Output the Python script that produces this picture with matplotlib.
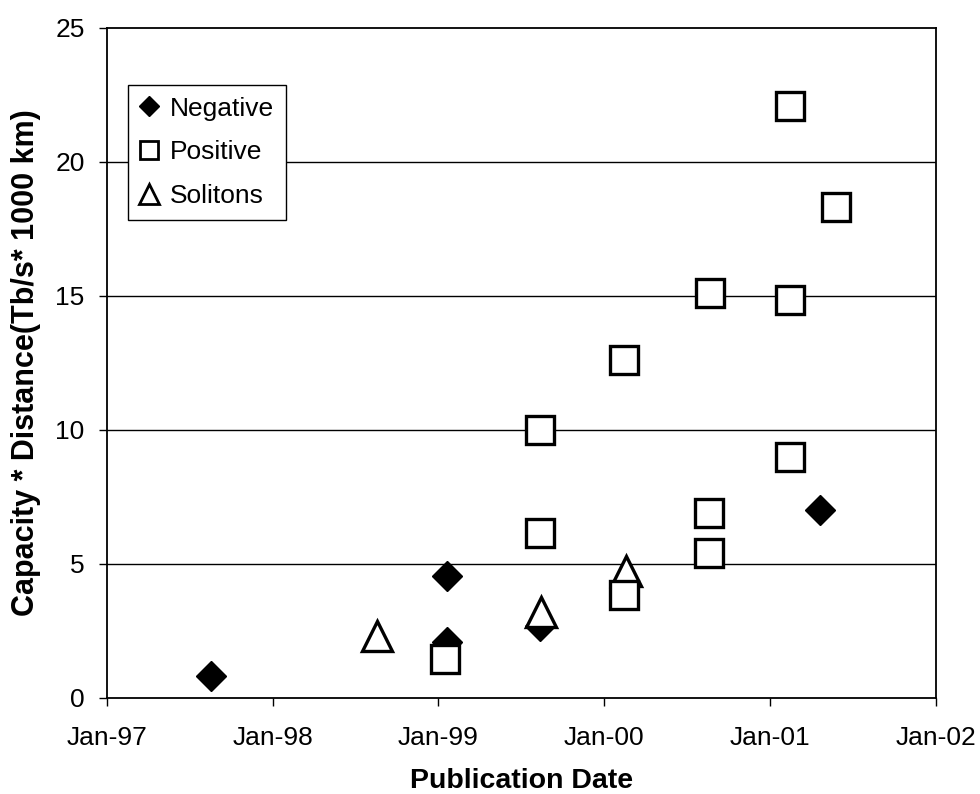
import matplotlib
matplotlib.use("Agg")
import matplotlib.pyplot as plt
from matplotlib.lines import Line2D

plt.rcParams['font.family'] = ['Liberation Sans', 'DejaVu Sans']

# Publication date as decimal year
neg_x = [1997.63, 1999.05, 1999.05, 1999.61, 2001.30]
neg_y = [0.8, 4.55, 2.1, 2.7, 7.0]

pos_x = [1999.04, 1999.61, 1999.61, 2000.12, 2000.12, 2000.64, 2000.63, 2000.63,
         2001.12, 2001.40, 2001.12, 2001.12]
pos_y = [1.45, 10.0, 6.15, 12.6, 3.85, 15.1, 6.9, 5.4, 22.1, 18.3, 14.85, 9.0]

sol_x = [1998.63, 1999.62, 2000.13]
sol_y = [2.3, 3.2, 4.75]

xtick_pos = [1997, 1998, 1999, 2000, 2001, 2002]
xtick_labels = ["Jan-97", "Jan-98", "Jan-99", "Jan-00", "Jan-01", "Jan-02"]
ytick_pos = [0, 5, 10, 15, 20, 25]

fig = plt.figure(figsize=(9.8, 7.94), dpi=100)
ax = fig.add_axes([0.109, 0.121, 0.846, 0.844])

ax.plot(neg_x, neg_y, linestyle='none', marker='D', markersize=15,
        markerfacecolor='black', markeredgecolor='black', zorder=3)
ax.plot(sol_x, sol_y, linestyle='none', marker='^', markersize=22,
        markerfacecolor='white', markeredgecolor='black', markeredgewidth=2.4, zorder=4)
ax.plot(pos_x, pos_y, linestyle='none', marker='s', markersize=19.5,
        markerfacecolor='white', markeredgecolor='black', markeredgewidth=2.4, zorder=5)

ax.set_xlim(1997, 2002)
ax.set_ylim(0, 25)
ax.set_xticks(xtick_pos)
ax.set_xticklabels(xtick_labels)
ax.set_yticks(ytick_pos)
ax.tick_params(axis='both', direction='out', length=6, width=1, labelsize=19, colors='black')
ax.tick_params(axis='x', pad=14)
ax.tick_params(axis='y', pad=10)

for y in [5, 10, 15, 20]:
    ax.axhline(y, color='black', linewidth=1.0, zorder=1)

for s in ax.spines.values():
    s.set_linewidth(1.3)
    s.set_color('black')

ax.set_xlabel("Publication Date", fontsize=20.5, fontweight='bold', va='baseline')
ax.xaxis.set_label_coords(0.5, -0.134)
ax.set_ylabel("Capacity * Distance(Tb/s* 1000 km)", fontsize=22, fontweight='bold', labelpad=10)

handles = [
    Line2D([], [], linestyle='none', marker='D', markersize=10,
           markerfacecolor='black', markeredgecolor='black'),
    Line2D([], [], linestyle='none', marker='s', markersize=13,
           markerfacecolor='white', markeredgecolor='black', markeredgewidth=2.0),
    Line2D([], [], linestyle='none', marker='^', markersize=14,
           markerfacecolor='white', markeredgecolor='black', markeredgewidth=2.0),
]
leg = ax.legend(handles, ["Negative", "Positive", "Solitons"], loc='upper left',
                bbox_to_anchor=(0.025, 0.915), fontsize=19, frameon=True, fancybox=False,
                edgecolor='black', framealpha=1, handlelength=0.7, handletextpad=0.45,
                borderpad=0.45, labelspacing=0.75, borderaxespad=0)
leg.get_frame().set_linewidth(1.0)
leg.set_zorder(6)

fig.savefig("out.png", dpi=100)
